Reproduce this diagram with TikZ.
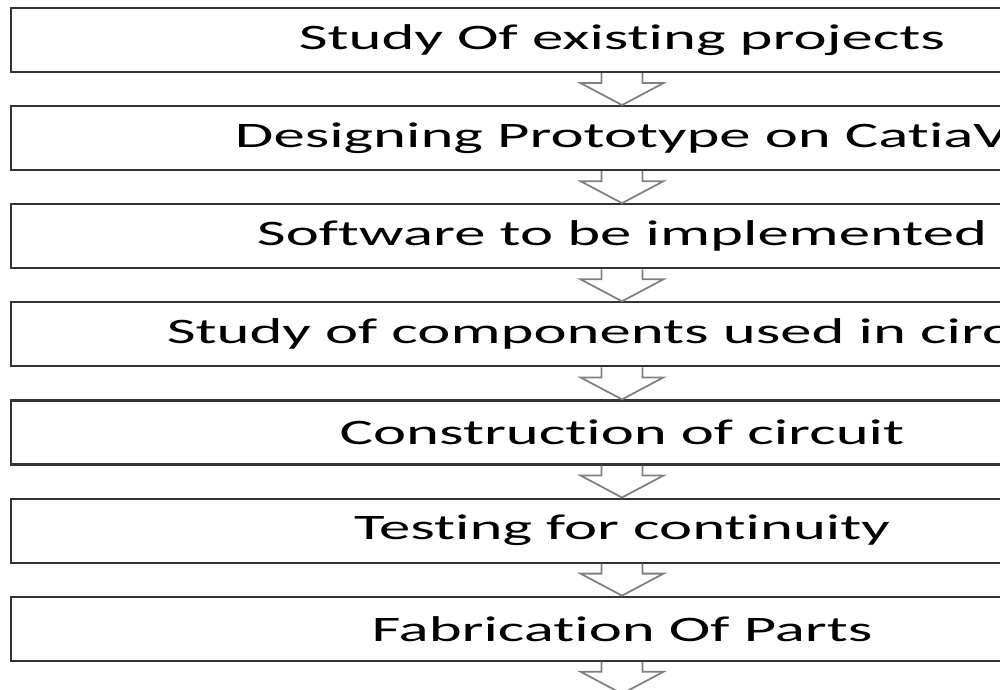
\documentclass[tikz,border=0pt]{standalone}
\usepackage{fontspec}
\setmainfont{Carlito}[FakeStretch=1.75, Ligatures=NoCommon]
\usetikzlibrary{positioning}
\definecolor{boxline}{HTML}{333333}
\definecolor{flowline}{HTML}{808080}

\tikzset{
  stage/.style={draw=boxline, line width=0.6pt, fill=white, minimum width=12.22cm,
    minimum height=0.64cm, inner sep=0pt, font=\fontsize{10.2pt}{12pt}\selectfont},
  flow/.style={draw=flowline, line width=0.5pt, line join=miter}
}

\begin{document}
\begin{tikzpicture}
    \useasboundingbox (0,0) rectangle (10,-6.89);
    \clip (0,0) rectangle (10,-6.89);
    % stages, top to bottom
    \node[stage] (s1) at (6.22,-0.40) {Study Of existing projects};
    \node[stage, below=0.32cm of s1] (s2) {Designing Prototype on CatiaV};
    \node[stage, below=0.32cm of s2] (s3) {Software to be implemented};
    \node[stage, below=0.32cm of s3] (s4) {Study of components used in circuit};
    \node[stage, below=0.32cm of s4] (s5) {Construction of circuit};
    \node[stage, below=0.32cm of s5] (s6) {Testing for continuity};
    \node[stage, below=0.32cm of s6] (s7) {Fabrication Of Parts};
    \coordinate[below=0.32cm of s7] (s8);
    % block arrows between the stages
    \foreach \a/\b in {s1/s2.north,s2/s3.north,s3/s4.north,s4/s5.north,s5/s6.north,s6/s7.north,s7/s8} {
      \draw[flow] ([xshift=-2.05mm]\a.south) -- ++(0,-1mm) -- ++(-2.1mm,0) -- (\b)
        -- ([xshift=4.15mm,yshift=-1mm]\a.south) -- ++(-2.1mm,0) -- ([xshift=2.05mm]\a.south);
    }
\end{tikzpicture}
\end{document}
